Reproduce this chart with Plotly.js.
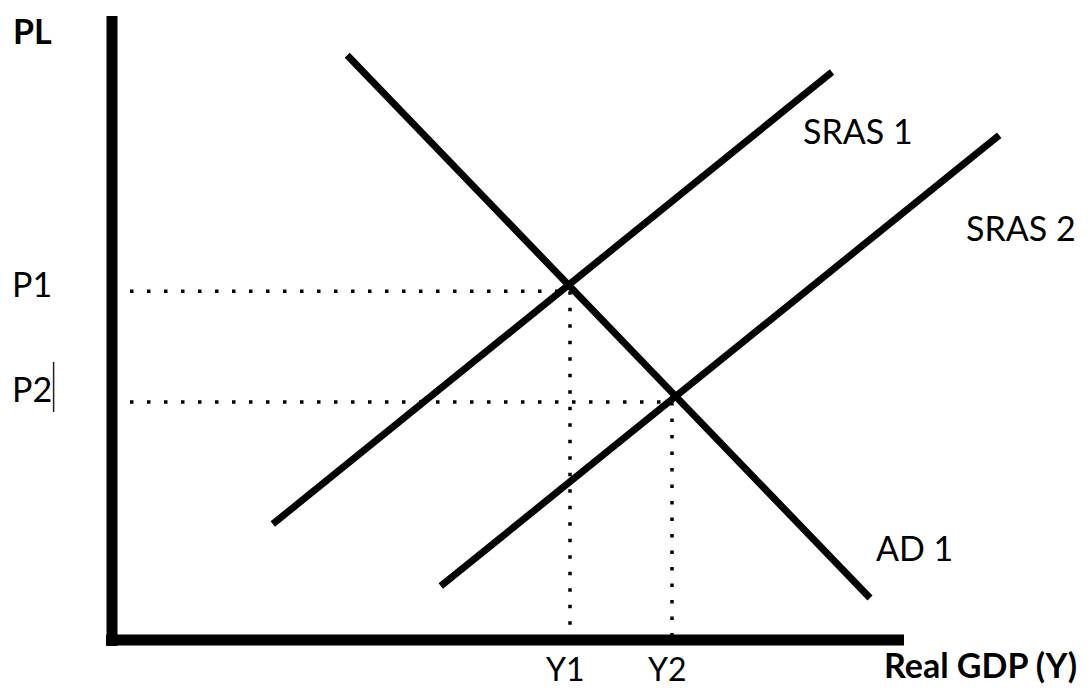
<!DOCTYPE html>
<html>
<head>
<meta charset="utf-8">
<script src="https://cdn.plot.ly/plotly-3.0.1.min.js"></script>
<style>html,body{margin:0;padding:0;background:#fff;}#chart{width:1088px;height:689px;}</style>
</head>
<body>
<div id="chart"></div>
<script>
// Curves (endpoints, in chart units)
const sras1X = [20.1, 90];
const sras1Y = [14.5, 71];
const sras2X = [41.1, 110.9];
const sras2Y = [6.75, 63.1];
const ad1X = [29.4, 94.75];
const ad1Y = [73.1, 5.25];
// Equilibria
const priceLevels = [43.6, 29.75];
const priceLabels = ['P1', 'P2'];
const outputs = [57.25, 70];
const outputLabels = ['Y1', 'Y2'];
// Axis extents
const xAxisExtent = [-0.75, 99];
const yAxisExtent = [-0.75, 78];
const guideStartX = 2.25;

const FONT = 'Lato, "Open Sans", sans-serif';
const traces = [];
// axes
traces.push({x: xAxisExtent, y: [0, 0], mode: 'lines', line: {color: '#000', width: 11}, hoverinfo: 'skip'});
traces.push({x: [0, 0], y: yAxisExtent, mode: 'lines', line: {color: '#000', width: 11}, hoverinfo: 'skip'});
// dotted guides
for (let i = 0; i < priceLevels.length; i++) {
  traces.push({x: [guideStartX, outputs[i]], y: [priceLevels[i], priceLevels[i]], mode: 'lines',
    line: {color: '#000', width: 3.5, dash: '3.5px,13.5px'}, hoverinfo: 'skip'});
  traces.push({x: [outputs[i], outputs[i]], y: [priceLevels[i], 0], mode: 'lines',
    line: {color: '#000', width: 3.5, dash: '3.5px,13px'}, hoverinfo: 'skip'});
}
// curves
[[sras1X, sras1Y], [sras2X, sras2Y], [ad1X, ad1Y]].forEach(function (c) {
  traces.push({x: c[0], y: c[1], mode: 'lines', line: {color: '#000', width: 7}, hoverinfo: 'skip'});
});

const txt = {family: FONT, size: 34, color: '#000'};
const txtSmall = {family: FONT, size: 32, color: '#000'};
const bold = {family: FONT, size: 34, color: '#000', weight: 'bold'};
const annotations = [];
function ann(x, y, text, font, opts) {
  annotations.push(Object.assign({x: x, y: y, xref: 'x', yref: 'y', text: text, showarrow: false,
    font: font, xanchor: 'center', yanchor: 'middle', borderpad: 0}, opts || {}));
}
ann(-10, 76.25, 'PL', bold);
for (let i = 0; i < priceLevels.length; i++) {
  ann(-12.6, priceLevels[i], priceLabels[i], txt, {xanchor: 'left', yshift: i === 0 ? 8 : 14});
  ann(outputs[i], -3.5, outputLabels[i], txtSmall, {xshift: -5});
}
ann(108.6, -3.0, 'Real GDP (Y)', bold);
ann(93.25, 63.75, 'SRAS 1', txt);
ann(113.6, 51.6, 'SRAS 2', txt);
ann(100.25, 11.6, 'AD 1', txt);

// text-cursor mark next to the P2 label, as in the original
const shapes = [{type: 'line', xref: 'x', yref: 'y', x0: -7.3, x1: -7.3,
  y0: priceLevels[1] - 1.25, y1: priceLevels[1] + 5, line: {color: '#222', width: 1.5}}];

const layout = {
  width: 1088, height: 689,
  margin: {l: 0, r: 0, t: 0, b: 0},
  paper_bgcolor: '#fff', plot_bgcolor: '#fff',
  showlegend: false,
  xaxis: {range: [-14, 122], visible: false, fixedrange: true},
  yaxis: {range: [-6.125, 80], visible: false, fixedrange: true},
  annotations: annotations,
  shapes: shapes
};
Plotly.newPlot('chart', traces, layout, {staticPlot: true, displayModeBar: false});
</script>
</body>
</html>
